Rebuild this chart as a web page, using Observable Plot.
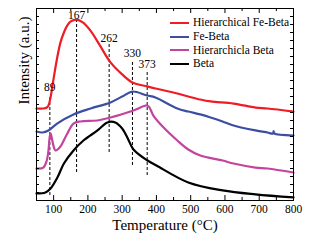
<!DOCTYPE html>
<html><head><meta charset="utf-8">
<script src="https://cdn.jsdelivr.net/npm/d3@7"></script>
<script src="https://cdn.jsdelivr.net/npm/@observablehq/plot@0.6"></script>
<style>
body{margin:0;background:#fff;}
#wrap{position:relative;width:315px;height:244px;font-family:'Liberation Serif',serif;font-weight:normal;}
#wrap svg, #wrap svg text{font-family:'Liberation Serif',serif !important;font-weight:normal;}
#legend{position:absolute;left:170px;top:16px;font-size:11.5px;line-height:13.8px;color:#000;}
#legend div{display:flex;align-items:center;white-space:nowrap;}
#legend span.sw{display:inline-block;width:19px;height:2px;margin-right:4px;}
</style></head><body>
<div id="wrap"><div id="legend"></div></div>
<script>
const seriesNames = ["Hierarchical Fe-Beta", "Fe-Beta", "Hierarchicla Beta", "Beta"];
const seriesColors = ["#ee1c24", "#3b4ea3", "#c2449f", "#000000"];

const redT = [50,70,80,85,91,100,110,120,130,140,150,167,185,207,235,266,300,330,373,397,461,493,528,558,625,689,724,800];
const redI = [0.575,0.575,0.581,0.594,0.644,0.763,0.888,0.988,1.050,1.094,1.119,1.131,1.113,1.063,0.969,0.863,0.788,0.738,0.713,0.700,0.669,0.650,0.631,0.619,0.606,0.581,0.575,0.556];

const blueT = [50,67,85,110,158,208,266,300,330,373,397,461,493,528,558,593,625,689,724,740,742,744,800];
const blueI = [0.431,0.425,0.438,0.481,0.538,0.575,0.613,0.650,0.681,0.656,0.644,0.575,0.556,0.538,0.519,0.494,0.469,0.438,0.425,0.419,0.433,0.419,0.406];

const magT = [50,70,80,85,88,91,95,100,105,112,120,140,158,178,228,266,333,373,380,391,421,461,493,528,593,625,689,724,800];
const magI = [0.200,0.206,0.250,0.313,0.388,0.419,0.388,0.338,0.313,0.319,0.338,0.419,0.481,0.494,0.500,0.519,0.563,0.594,0.581,0.531,0.456,0.375,0.319,0.281,0.250,0.231,0.206,0.200,0.175];

const blackT = [50,76,91,111,130,158,187,228,257,280,300,315,333,374,400,493,593,689,800];
const blackI = [0.044,0.050,0.075,0.144,0.231,0.313,0.375,0.438,0.488,0.488,0.450,0.394,0.319,0.250,0.219,0.113,0.063,0.038,0.019];

const peakT = [89,167,262,330,373];
const peakTop = [0.656,1.125,0.975,0.875,0.813];
const peakBottom = [0.031,0.175,0.300,0.219,0.156];
const peakLabelI = [0.706,1.156,1.013,0.919,0.850];

const xMajor = [100,200,300,400,500,600,700,800];
const xMinor = [50,150,250,350,450,550,650,750];
const yTicks = d3.range(0.05, 1.2, 0.05);

const allT = [redT, blueT, magT, blackT];
const allI = [redI, blueI, magI, blackI];
const rows = [];
seriesNames.forEach((s, k) => allT[k].forEach((t, i) => rows.push({series: s, T: t, I: allI[k][i]})));
const peaks = peakT.map((t, i) => ({T: t, top: peakTop[i], bot: peakBottom[i], ly: peakLabelI[i]}));

const W = 315, H = 244, mL = 36, mR = 22, mT = 8, mB = 44;
const pw = W - mL - mR, ph = H - mT - mB;

const chart = Plot.plot({
  width: W, height: H,
  marginLeft: mL, marginRight: mR, marginTop: mT, marginBottom: mB,
  style: {fontFamily: "'Liberation Serif', serif", fontSize: "11px", background: "#fff", color: "#000"},
  x: {domain: [50, 800]},
  y: {domain: [0, 1.2]},
  color: {domain: seriesNames, range: seriesColors},
  marks: [
    Plot.ruleX(peaks, {x: "T", y1: "bot", y2: "top", stroke: "#000", strokeWidth: 1, strokeDasharray: "3,2"}),
    Plot.line(rows, {x: "T", y: "I", z: "series", stroke: "series", strokeWidth: 2.2, curve: "catmull-rom"}),
    Plot.text(peaks, {x: "T", y: "ly", text: d => String(d.T), fontSize: 11.5, fontFamily: "'Liberation Serif', serif"}),
    Plot.tickX(xMajor, {x: d => d, insetTop: ph - 5, stroke: "#000"}),
    Plot.tickX(xMinor, {x: d => d, insetTop: ph - 3, stroke: "#000"}),
    Plot.tickX(xMajor, {x: d => d, insetBottom: ph - 5, stroke: "#000"}),
    Plot.tickX(xMinor, {x: d => d, insetBottom: ph - 3, stroke: "#000"}),
    Plot.tickY(yTicks, {y: d => d, insetRight: pw - 3, stroke: "#000"}),
    Plot.tickY(yTicks, {y: d => d, insetLeft: pw - 3, stroke: "#000"}),
    Plot.axisX({ticks: xMajor, tickSize: 0, tickPadding: 4, label: null, fontSize: 11.5, fontFamily: "'Liberation Serif', serif"}),
    Plot.axisY({ticks: [], label: null}),
    Plot.text(["Temperature (°C)"], {frameAnchor: "bottom", dy: 29, fontSize: 15, fontFamily: "'Liberation Serif', serif"}),
    Plot.text(["Intensity (a.u.)"], {frameAnchor: "left", rotate: -90, dx: -12, fontSize: 15, fontFamily: "'Liberation Serif', serif"}),
    Plot.frame({stroke: "#000", strokeWidth: 1})
  ]
});
const wrap = document.getElementById("wrap");
wrap.insertBefore(chart, wrap.firstChild);

const legend = document.getElementById("legend");
seriesNames.forEach((s, i) => {
  const row = document.createElement("div");
  const sw = document.createElement("span");
  sw.className = "sw";
  sw.style.background = seriesColors[i];
  row.appendChild(sw);
  row.appendChild(document.createTextNode(s));
  legend.appendChild(row);
});
</script>
</body></html>
